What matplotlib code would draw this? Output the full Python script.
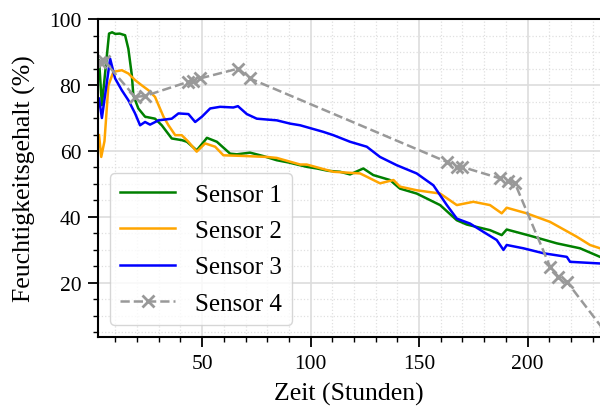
import matplotlib
matplotlib.use("Agg")
import matplotlib.pyplot as plt
from matplotlib.ticker import MultipleLocator

plt.rcParams['font.family'] = ['Liberation Serif', 'DejaVu Serif']

s1_x = [2.5, 3.8, 5.5, 7.1, 8.5, 10, 12, 14.5, 16, 17.6, 18.3, 20.6, 23.7, 28.3, 31.4, 36, 40.6, 43, 47.5, 51.4, 52.2, 56.8, 62.9, 66, 72.1, 78, 84.4, 90, 98.2, 102.9, 108, 113.6, 118.2, 124.3, 128.9, 136.6, 141.2, 148.9, 159.7, 167.4, 172, 182.7, 188.1, 190.4, 201.2, 213.5, 224.2, 233.4]
s1_y = [87.5, 73.9, 85, 95.6, 96, 95.5, 95.6, 95.1, 91, 83, 76.9, 72.9, 70.4, 69.8, 67.8, 63.8, 63.3, 62.8, 60.2, 63.3, 64, 62.8, 59.2, 59.0, 59.5, 58.5, 57.2, 56.5, 55.2, 54.7, 54, 53.7, 52.9, 54.7, 52.7, 51.2, 48.6, 47.1, 43.6, 39, 37.7, 36, 34.5, 36.2, 34.3, 32, 30.5, 27.9]

s2_x = [2.5, 3.5, 5, 6.8, 9.1, 13, 16, 19.1, 22.2, 25.3, 28.3, 32.2, 34.5, 37.6, 40.6, 43.7, 47.5, 51.4, 56, 59.8, 69, 79.8, 84.4, 95.2, 98.2, 110.5, 122.8, 125.9, 132, 138.2, 141.2, 148.9, 159.7, 167.4, 175, 182.7, 188.1, 190.4, 199.6, 210.4, 222.7, 228.8, 233.4]
s2_y = [64.8, 58.2, 63, 79.9, 84, 84.5, 83.5, 81.5, 79.9, 78.4, 76.4, 70.4, 67.8, 64.8, 64.8, 62.8, 59.8, 62.3, 61.3, 58.7, 58.5, 58.2, 57.9, 55.9, 55.9, 53.7, 53.2, 52.2, 50.2, 51.2, 49.2, 48.1, 47.1, 43.6, 44.6, 43.6, 41.1, 42.8, 41.1, 38.5, 34, 31.5, 30.5]

s3_x = [2.5, 3.8, 5.5, 7.6, 9.9, 13, 16, 19.1, 21.4, 23.7, 26, 29.9, 36, 39.1, 43.7, 46.8, 49.9, 53.7, 58.3, 64.4, 66.5, 70.6, 75.2, 84.4, 90.6, 95.2, 105.9, 110.5, 118.2, 125.9, 132, 139.7, 148.9, 156.6, 162.8, 167.4, 173.5, 179.6, 185.8, 188.9, 190.4, 198.1, 207.3, 218.1, 219.6, 233.4]
s3_y = [75.9, 70, 78, 88, 82, 78.4, 75.4, 71.4, 67.8, 68.8, 68, 69.3, 69.8, 71.4, 71.2, 68.8, 70.4, 72.9, 73.4, 73.2, 73.6, 71.2, 69.8, 69.3, 68.3, 67.8, 65.8, 64.8, 62.8, 61.3, 58.2, 55.7, 53.2, 49.6, 43.6, 39.5, 38, 35.5, 33, 30, 31.5, 30.5, 29, 27.9, 26.4, 25.9]

s4_x = [3, 5, 19.1, 23.7, 43.7, 46, 49, 66.7, 72, 162.8, 167.4, 169.7, 187.3, 191.2, 194.2, 210.4, 214.2, 218.1, 236]
s4_y = [87, 87.2, 76.4, 76.7, 81, 81.3, 82, 85, 82, 56.7, 55.2, 55.2, 51.7, 50.9, 50.2, 24.9, 21.9, 20.4, 5]

labels = ["Sensor 1", "Sensor 2", "Sensor 3", "Sensor 4"]
x_label = "Zeit (Stunden)"
y_label = "Feuchtigkeitsgehalt (%)"

fig = plt.figure(figsize=(6, 4.1), dpi=100)
ax = fig.add_axes([0.1633, 0.1756, 0.8367, 0.7754])

ax.plot(s1_x, s1_y, color='green', lw=1.8, label=labels[0])
ax.plot(s2_x, s2_y, color='orange', lw=1.8, label=labels[1])
ax.plot(s3_x, s3_y, color='blue', lw=1.8, label=labels[2])
ax.plot(s4_x, s4_y, color='#999999', lw=1.8, ls='--', marker='x',
        markersize=8, markeredgewidth=2, label=labels[3])

ax.set_xlim(2.0, 233.4)
ax.set_ylim(3.6, 100)
ax.xaxis.set_major_locator(MultipleLocator(50))
ax.xaxis.set_minor_locator(MultipleLocator(10))
ax.yaxis.set_major_locator(MultipleLocator(20))
ax.yaxis.set_minor_locator(MultipleLocator(5))

ax.grid(which='major', color='#dddddd', lw=1.2, ls='-')
ax.grid(which='minor', color='#e0e0e0', lw=0.9, ls=':')
ax.set_axisbelow(True)

ax.tick_params(which='major', direction='out', length=7, width=1.3, labelsize=15.5, pad=5)
ax.tick_params(which='minor', direction='out', length=3.5, width=1.0)
for sp in ['left', 'bottom', 'top']:
    ax.spines[sp].set_linewidth(1.5)
ax.spines['right'].set_visible(False)

ax.set_xlabel(x_label, fontsize=18.5, labelpad=7)
ax.set_ylabel(y_label, fontsize=18.5, labelpad=9)

leg = ax.legend(loc='lower left', fontsize=18, framealpha=0.8, edgecolor='#cccccc',
                handlelength=2.2, labelspacing=0.55)

fig.savefig('out.png', dpi=100)
